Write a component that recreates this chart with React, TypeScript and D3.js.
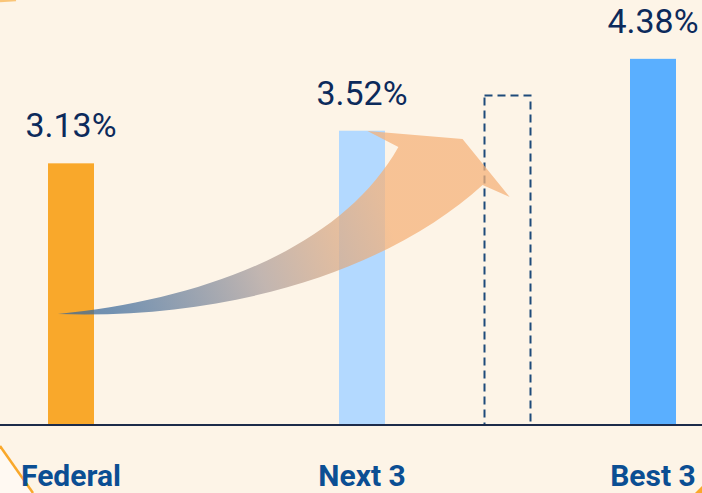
import React from "react";
import * as d3 from "d3";

const categories = ["Federal", "Next 3", "Best 3"];
const values = [3.13, 3.52, 4.38];
const valueLabels = ["3.13%", "3.52%", "4.38%"];
const targetValue = 3.94;
const barColors = ["#F9A82B", "#B3D9FF", "#5AAFFF"];

const W = 702;
const H = 493;
const baseY = 425;

export default function App() {
  const x = d3.scalePoint<string>().domain(categories).range([71, 653]);
  const y = d3.scaleLinear().domain([0, 5]).range([baseY, baseY - 5 * 83.6]);
  const barW = 46;
  const xF = x("Federal")!;
  const xT = (x("Next 3")! + x("Best 3")!) / 2;

  // arrow geometry expressed in chart units: fraction between Federal and target, value
  const px = (f: number) => xF + f * (xT - xF);
  const P = (f: number, v: number) => `${px(f)},${y(v)}`;
  const arrow =
    `M${P(-0.03, 1.328)} ` +
    `C${P(0.296, 1.495)} ${P(0.617, 2.093)} ${P(0.75, 3.325)} ` +
    `L${P(0.679, 3.517)} L${P(0.897, 3.421)} L${P(1.005, 2.727)} L${P(0.943, 2.871)} ` +
    `C${P(0.755, 1.974)} ${P(0.411, 1.256)} ${P(-0.03, 1.328)} Z`;

  return (
    <>
      <style>{`body{margin:0}`}</style>
      <svg width={W} height={H} style={{ display: "block" }}>
        <defs>
          <linearGradient id="arrowGrad" gradientUnits="userSpaceOnUse" x1={70} y1={330} x2={440} y2={190}>
            <stop offset="0" stopColor="#3a6799" stopOpacity={0.75} />
            <stop offset="0.12" stopColor="#3d6b9c" stopOpacity={0.72} />
            <stop offset="0.5" stopColor="#b3a6a3" stopOpacity={0.8} />
            <stop offset="0.85" stopColor="#f5b27a" stopOpacity={0.75} />
            <stop offset="1" stopColor="#f5b27a" stopOpacity={0.75} />
          </linearGradient>
        </defs>
        <rect x={0} y={0} width={W} height={H} fill="#FDF4E7" />
        {/* decorative corners */}
        <path d={`M0,446 L33,${H} L0,${H} Z`} fill="#FFF9F2" />
        <line x1={0} y1={446} x2={33} y2={H} stroke="#F9A82B" strokeWidth={2.5} />
        <line x1={0} y1={1} x2={16} y2={0} stroke="#F9B24A" strokeWidth={2.5} opacity={0.7} />
        <path d={`M${W},486 L${W},${H} L695,${H} Z`} fill="#F9A82B" />

        {categories.map((c, i) => (
          <rect
            key={c}
            x={x(c)! - barW / 2}
            y={y(values[i])}
            width={barW}
            height={baseY - y(values[i])}
            fill={barColors[i]}
          />
        ))}

        <rect
          x={xT - barW / 2}
          y={y(targetValue)}
          width={barW}
          height={baseY - y(targetValue)}
          fill="none"
          stroke="#1E4A7A"
          strokeWidth={2}
          strokeDasharray="8 5"
        />

        <path d={arrow} fill="url(#arrowGrad)" />

        <line x1={0} x2={W} y1={baseY} y2={baseY} stroke="#1C2B4A" strokeWidth={2} />

        {categories.map((c, i) => (
          <text
            key={c + "v"}
            x={x(c)!}
            y={y(values[i]) - 26}
            textAnchor="middle"
            fontFamily="Roboto"
            fontWeight={400}
            fontSize={33}
            textLength={91}
            lengthAdjust="spacingAndGlyphs"
            fill="#0C2A5B"
          >
            {valueLabels[i]}
          </text>
        ))}

        {categories.map((c) => (
          <text
            key={c + "l"}
            x={x(c)!}
            y={486}
            textAnchor="middle"
            fontFamily="Roboto"
            fontWeight={700}
            fontSize={30}
            fill="#0B4E93"
          >
            {c}
          </text>
        ))}
      </svg>
    </>
  );
}
